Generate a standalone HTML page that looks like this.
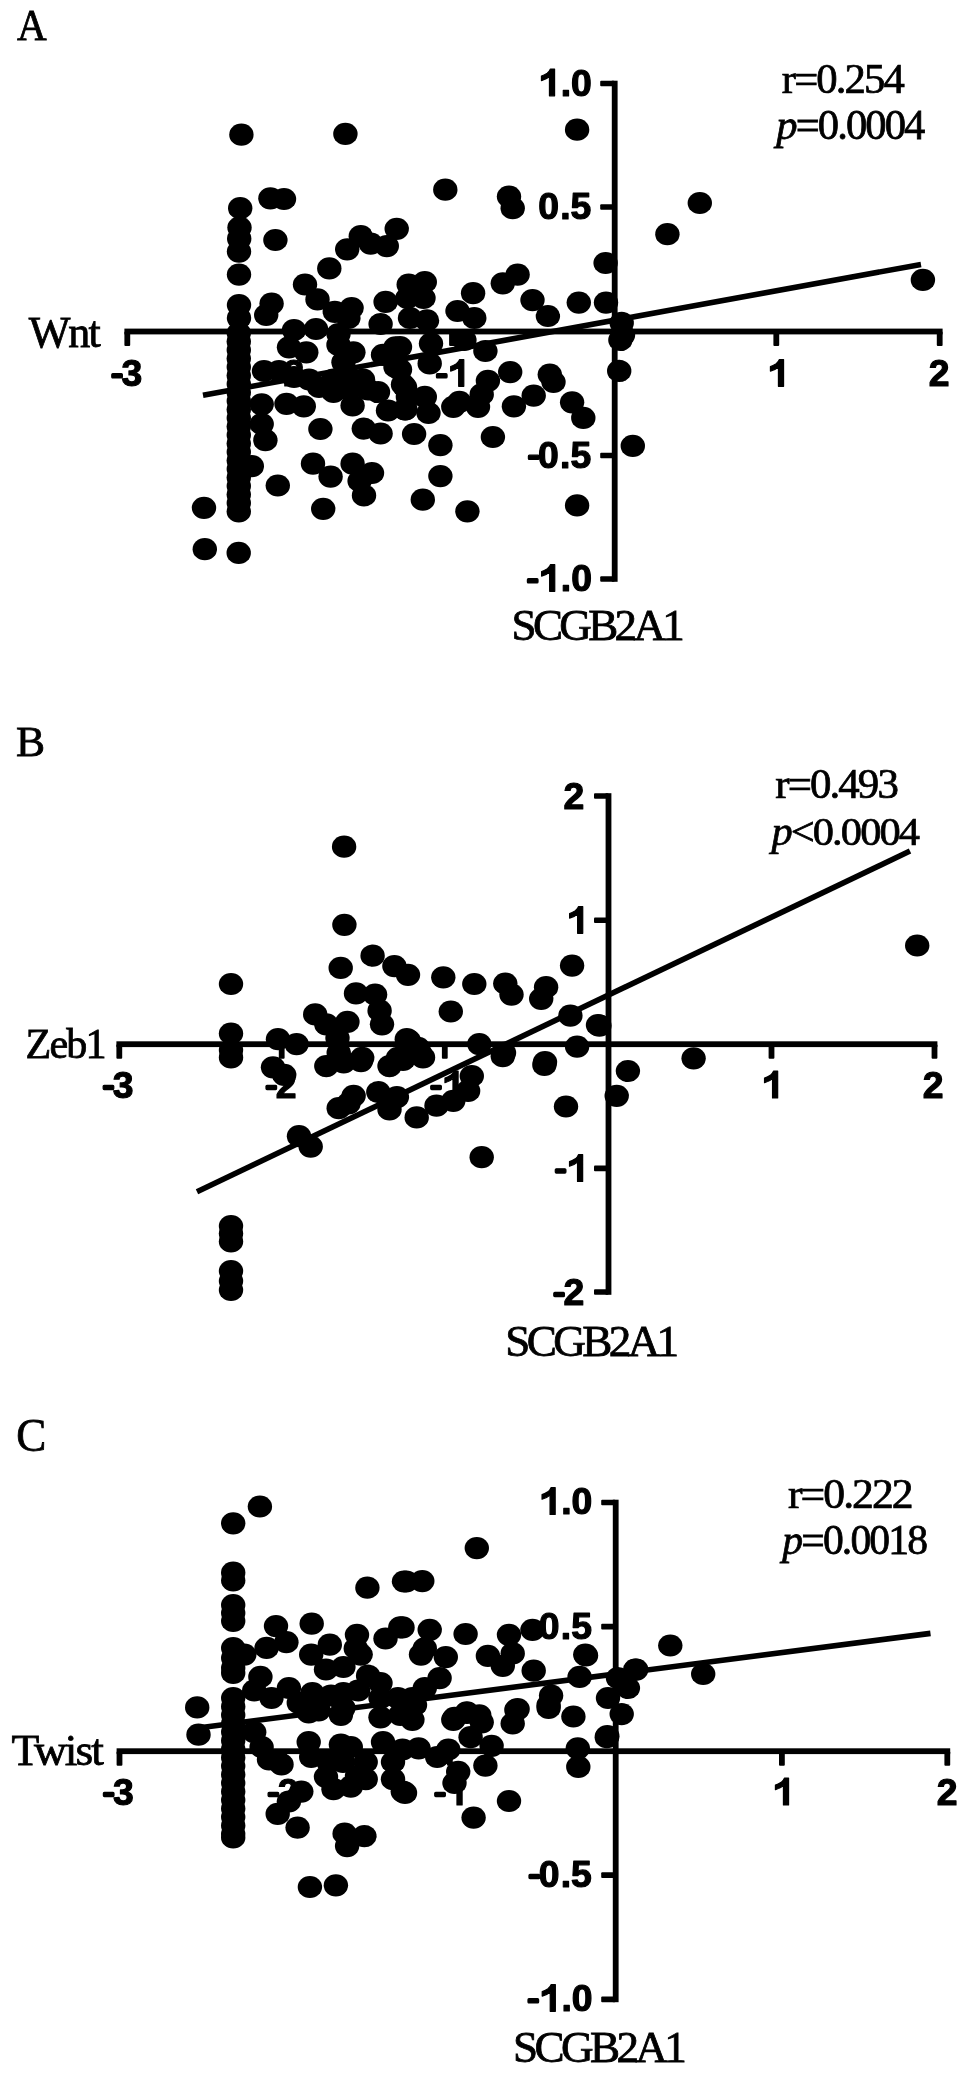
<!DOCTYPE html>
<html><head><meta charset="utf-8"><title>Figure</title>
<style>
html,body{margin:0;padding:0;background:#fff;}
body{width:969px;height:2075px;overflow:hidden;font-family:"Liberation Sans",sans-serif;}
svg{display:block;}
.b{font-family:"Liberation Sans",sans-serif;font-weight:bold;fill:#000;}
.bg text,.bg path,.bg rect{stroke:#000;stroke-width:1.2px;stroke-linejoin:round;}
.bg path{stroke-width:66px;}
.s{font-family:"Liberation Serif",serif;fill:#000;stroke:#000;stroke-width:0.8px;}
</style></head><body>
<svg width="969" height="2075" viewBox="0 0 969 2075" fill="#000">
<defs><filter id="soft" x="0" y="0" width="969" height="2075" filterUnits="userSpaceOnUse"><feGaussianBlur stdDeviation="0.7"/></filter></defs>
<rect x="0" y="0" width="969" height="2075" fill="#fff"/>
<g filter="url(#soft)">
<rect x="611.80" y="80.70" width="5.8" height="501.10"/><rect x="124.40" y="328.60" width="818.20" height="5.8"/><rect x="124.40" y="331.50" width="5.8" height="14.6" rx="1"/><rect x="286.60" y="331.50" width="5.8" height="14.6" rx="1"/><rect x="449.10" y="331.50" width="5.8" height="14.6" rx="1"/><rect x="773.40" y="331.50" width="5.8" height="14.6" rx="1"/><rect x="936.80" y="331.50" width="5.8" height="14.6" rx="1"/><rect x="600.20" y="80.70" width="14.5" height="5.6" rx="1"/><rect x="600.20" y="204.20" width="14.5" height="5.6" rx="1"/><rect x="600.20" y="452.70" width="14.5" height="5.6" rx="1"/><rect x="600.20" y="576.20" width="14.5" height="5.6" rx="1"/><line x1="203" y1="395.3" x2="921" y2="264.4" stroke="#000" stroke-width="5.6"/><ellipse cx="241.4" cy="134.7" rx="12.2" ry="11.1"/><ellipse cx="345.4" cy="133.9" rx="12.2" ry="11.1"/><ellipse cx="270.4" cy="198.3" rx="12.2" ry="11.1"/><ellipse cx="284.0" cy="199.0" rx="12.2" ry="11.1"/><ellipse cx="240.2" cy="208.2" rx="12.2" ry="11.1"/><ellipse cx="239.5" cy="227.5" rx="12.2" ry="11.1"/><ellipse cx="239.2" cy="238.7" rx="12.2" ry="11.1"/><ellipse cx="239.0" cy="251.6" rx="12.2" ry="11.1"/><ellipse cx="239.0" cy="274.6" rx="12.2" ry="11.1"/><ellipse cx="275.4" cy="240.0" rx="12.2" ry="11.1"/><ellipse cx="396.7" cy="228.8" rx="12.2" ry="11.1"/><ellipse cx="360.8" cy="236.2" rx="12.2" ry="11.1"/><ellipse cx="347.2" cy="249.3" rx="12.2" ry="11.1"/><ellipse cx="370.7" cy="243.6" rx="12.2" ry="11.1"/><ellipse cx="386.8" cy="246.1" rx="12.2" ry="11.1"/><ellipse cx="329.3" cy="268.4" rx="12.2" ry="11.1"/><ellipse cx="305.0" cy="284.5" rx="12.2" ry="11.1"/><ellipse cx="317.5" cy="299.4" rx="12.2" ry="11.1"/><ellipse cx="271.6" cy="303.6" rx="12.2" ry="11.1"/><ellipse cx="266.2" cy="315.0" rx="12.2" ry="11.1"/><ellipse cx="239.0" cy="305.0" rx="12.2" ry="11.1"/><ellipse cx="239.0" cy="318.0" rx="12.2" ry="11.1"/><ellipse cx="334.8" cy="311.8" rx="12.2" ry="11.1"/><ellipse cx="351.6" cy="308.0" rx="12.2" ry="11.1"/><ellipse cx="348.4" cy="318.0" rx="12.2" ry="11.1"/><ellipse cx="385.6" cy="301.9" rx="12.2" ry="11.1"/><ellipse cx="380.6" cy="324.0" rx="12.2" ry="11.1"/><ellipse cx="294.0" cy="330.0" rx="12.2" ry="11.1"/><ellipse cx="316.0" cy="329.0" rx="12.2" ry="11.1"/><ellipse cx="338.5" cy="334.0" rx="12.2" ry="11.1"/><ellipse cx="577.1" cy="129.7" rx="12.2" ry="11.1"/><ellipse cx="445.3" cy="189.7" rx="12.2" ry="11.1"/><ellipse cx="509.0" cy="196.6" rx="12.2" ry="11.1"/><ellipse cx="512.7" cy="208.2" rx="12.2" ry="11.1"/><ellipse cx="605.6" cy="263.0" rx="12.2" ry="11.1"/><ellipse cx="517.6" cy="274.6" rx="12.2" ry="11.1"/><ellipse cx="502.8" cy="283.3" rx="12.2" ry="11.1"/><ellipse cx="473.1" cy="293.2" rx="12.2" ry="11.1"/><ellipse cx="532.5" cy="300.1" rx="12.2" ry="11.1"/><ellipse cx="578.8" cy="302.6" rx="12.2" ry="11.1"/><ellipse cx="606.0" cy="302.6" rx="12.2" ry="11.1"/><ellipse cx="547.9" cy="316.0" rx="12.2" ry="11.1"/><ellipse cx="457.5" cy="311.0" rx="12.2" ry="11.1"/><ellipse cx="474.3" cy="318.0" rx="12.2" ry="11.1"/><ellipse cx="424.8" cy="282.0" rx="12.2" ry="11.1"/><ellipse cx="408.7" cy="284.5" rx="12.2" ry="11.1"/><ellipse cx="423.5" cy="298.0" rx="12.2" ry="11.1"/><ellipse cx="407.4" cy="298.0" rx="12.2" ry="11.1"/><ellipse cx="410.0" cy="318.0" rx="12.2" ry="11.1"/><ellipse cx="427.0" cy="320.4" rx="12.2" ry="11.1"/><ellipse cx="621.7" cy="322.9" rx="12.2" ry="11.1"/><ellipse cx="623.0" cy="335.0" rx="12.2" ry="11.1"/><ellipse cx="204.0" cy="507.8" rx="12.2" ry="11.1"/><ellipse cx="204.8" cy="549.2" rx="12.2" ry="11.1"/><ellipse cx="238.7" cy="552.9" rx="12.2" ry="11.1"/><ellipse cx="277.8" cy="485.5" rx="12.2" ry="11.1"/><ellipse cx="323.2" cy="508.8" rx="12.2" ry="11.1"/><ellipse cx="251.8" cy="466.2" rx="12.2" ry="11.1"/><ellipse cx="265.4" cy="440.2" rx="12.2" ry="11.1"/><ellipse cx="261.7" cy="424.0" rx="12.2" ry="11.1"/><ellipse cx="261.7" cy="404.3" rx="12.2" ry="11.1"/><ellipse cx="286.5" cy="403.8" rx="12.2" ry="11.1"/><ellipse cx="303.8" cy="406.3" rx="12.2" ry="11.1"/><ellipse cx="320.4" cy="429.0" rx="12.2" ry="11.1"/><ellipse cx="313.0" cy="463.7" rx="12.2" ry="11.1"/><ellipse cx="330.6" cy="476.6" rx="12.2" ry="11.1"/><ellipse cx="352.6" cy="463.7" rx="12.2" ry="11.1"/><ellipse cx="372.0" cy="473.0" rx="12.2" ry="11.1"/><ellipse cx="359.6" cy="481.0" rx="12.2" ry="11.1"/><ellipse cx="364.0" cy="495.4" rx="12.2" ry="11.1"/><ellipse cx="363.8" cy="428.6" rx="12.2" ry="11.1"/><ellipse cx="380.6" cy="433.5" rx="12.2" ry="11.1"/><ellipse cx="352.6" cy="405.5" rx="12.2" ry="11.1"/><ellipse cx="388.0" cy="410.5" rx="12.2" ry="11.1"/><ellipse cx="405.4" cy="409.3" rx="12.2" ry="11.1"/><ellipse cx="264.0" cy="371.0" rx="12.2" ry="11.1"/><ellipse cx="279.0" cy="371.0" rx="12.2" ry="11.1"/><ellipse cx="294.0" cy="377.0" rx="12.2" ry="11.1"/><ellipse cx="309.0" cy="379.5" rx="12.2" ry="11.1"/><ellipse cx="319.0" cy="387.0" rx="12.2" ry="11.1"/><ellipse cx="333.5" cy="379.5" rx="12.2" ry="11.1"/><ellipse cx="333.5" cy="392.0" rx="12.2" ry="11.1"/><ellipse cx="348.4" cy="377.0" rx="12.2" ry="11.1"/><ellipse cx="348.4" cy="389.4" rx="12.2" ry="11.1"/><ellipse cx="363.0" cy="379.5" rx="12.2" ry="11.1"/><ellipse cx="368.0" cy="389.4" rx="12.2" ry="11.1"/><ellipse cx="378.0" cy="392.0" rx="12.2" ry="11.1"/><ellipse cx="289.0" cy="347.3" rx="12.2" ry="11.1"/><ellipse cx="306.3" cy="352.3" rx="12.2" ry="11.1"/><ellipse cx="338.5" cy="344.9" rx="12.2" ry="11.1"/><ellipse cx="353.4" cy="352.3" rx="12.2" ry="11.1"/><ellipse cx="343.5" cy="362.2" rx="12.2" ry="11.1"/><ellipse cx="395.5" cy="347.3" rx="12.2" ry="11.1"/><ellipse cx="383.0" cy="354.8" rx="12.2" ry="11.1"/><ellipse cx="395.5" cy="367.0" rx="12.2" ry="11.1"/><ellipse cx="403.0" cy="384.5" rx="12.2" ry="11.1"/><ellipse cx="407.9" cy="396.9" rx="12.2" ry="11.1"/><ellipse cx="620.4" cy="340.0" rx="12.2" ry="11.1"/><ellipse cx="619.2" cy="370.9" rx="12.2" ry="11.1"/><ellipse cx="632.8" cy="445.9" rx="12.2" ry="11.1"/><ellipse cx="577.1" cy="505.4" rx="12.2" ry="11.1"/><ellipse cx="467.4" cy="511.3" rx="12.2" ry="11.1"/><ellipse cx="422.8" cy="499.7" rx="12.2" ry="11.1"/><ellipse cx="440.4" cy="476.1" rx="12.2" ry="11.1"/><ellipse cx="440.4" cy="445.2" rx="12.2" ry="11.1"/><ellipse cx="414.1" cy="434.0" rx="12.2" ry="11.1"/><ellipse cx="492.9" cy="437.0" rx="12.2" ry="11.1"/><ellipse cx="583.3" cy="417.9" rx="12.2" ry="11.1"/><ellipse cx="572.1" cy="402.3" rx="12.2" ry="11.1"/><ellipse cx="549.8" cy="374.6" rx="12.2" ry="11.1"/><ellipse cx="553.5" cy="382.0" rx="12.2" ry="11.1"/><ellipse cx="533.7" cy="395.6" rx="12.2" ry="11.1"/><ellipse cx="513.9" cy="406.3" rx="12.2" ry="11.1"/><ellipse cx="510.2" cy="372.1" rx="12.2" ry="11.1"/><ellipse cx="487.9" cy="380.8" rx="12.2" ry="11.1"/><ellipse cx="481.7" cy="394.4" rx="12.2" ry="11.1"/><ellipse cx="478.0" cy="406.8" rx="12.2" ry="11.1"/><ellipse cx="453.3" cy="406.8" rx="12.2" ry="11.1"/><ellipse cx="459.4" cy="401.8" rx="12.2" ry="11.1"/><ellipse cx="428.5" cy="413.0" rx="12.2" ry="11.1"/><ellipse cx="424.8" cy="396.9" rx="12.2" ry="11.1"/><ellipse cx="405.0" cy="409.3" rx="12.2" ry="11.1"/><ellipse cx="405.0" cy="387.0" rx="12.2" ry="11.1"/><ellipse cx="429.7" cy="363.4" rx="12.2" ry="11.1"/><ellipse cx="431.0" cy="343.6" rx="12.2" ry="11.1"/><ellipse cx="485.4" cy="351.0" rx="12.2" ry="11.1"/><ellipse cx="464.4" cy="340.0" rx="12.2" ry="11.1"/><ellipse cx="400.0" cy="347.0" rx="12.2" ry="11.1"/><ellipse cx="400.0" cy="369.6" rx="12.2" ry="11.1"/><ellipse cx="699.8" cy="203.0" rx="12.2" ry="11.1"/><ellipse cx="667.4" cy="234.2" rx="12.2" ry="11.1"/><ellipse cx="922.9" cy="279.9" rx="12.2" ry="11.1"/><ellipse cx="238.8" cy="511.5" rx="12.2" ry="11.1"/><ellipse cx="238.8" cy="333.0" rx="12.2" ry="11.1"/><ellipse cx="238.8" cy="341.5" rx="12.2" ry="11.1"/><ellipse cx="238.8" cy="350.0" rx="12.2" ry="11.1"/><ellipse cx="238.8" cy="358.5" rx="12.2" ry="11.1"/><ellipse cx="238.8" cy="367.0" rx="12.2" ry="11.1"/><ellipse cx="238.8" cy="375.5" rx="12.2" ry="11.1"/><ellipse cx="238.8" cy="384.0" rx="12.2" ry="11.1"/><ellipse cx="238.8" cy="392.5" rx="12.2" ry="11.1"/><ellipse cx="238.8" cy="401.0" rx="12.2" ry="11.1"/><ellipse cx="238.8" cy="409.5" rx="12.2" ry="11.1"/><ellipse cx="238.8" cy="418.0" rx="12.2" ry="11.1"/><ellipse cx="238.8" cy="426.5" rx="12.2" ry="11.1"/><ellipse cx="238.8" cy="435.0" rx="12.2" ry="11.1"/><ellipse cx="238.8" cy="443.5" rx="12.2" ry="11.1"/><ellipse cx="238.8" cy="452.0" rx="12.2" ry="11.1"/><ellipse cx="238.8" cy="460.5" rx="12.2" ry="11.1"/><ellipse cx="238.8" cy="469.0" rx="12.2" ry="11.1"/><ellipse cx="238.8" cy="477.5" rx="12.2" ry="11.1"/><ellipse cx="238.8" cy="486.0" rx="12.2" ry="11.1"/><ellipse cx="238.8" cy="494.5" rx="12.2" ry="11.1"/><ellipse cx="238.8" cy="503.0" rx="12.2" ry="11.1"/><rect x="605.60" y="793.20" width="5.8" height="501.60"/><rect x="116.40" y="1041.30" width="821.00" height="5.8"/><rect x="116.40" y="1044.20" width="5.8" height="14.6" rx="1"/><rect x="278.80" y="1044.20" width="5.8" height="14.6" rx="1"/><rect x="441.90" y="1044.20" width="5.8" height="14.6" rx="1"/><rect x="768.60" y="1044.20" width="5.8" height="14.6" rx="1"/><rect x="931.60" y="1044.20" width="5.8" height="14.6" rx="1"/><rect x="594.00" y="793.20" width="14.5" height="5.6" rx="1"/><rect x="594.00" y="917.50" width="14.5" height="5.6" rx="1"/><rect x="594.00" y="1165.60" width="14.5" height="5.6" rx="1"/><rect x="594.00" y="1289.20" width="14.5" height="5.6" rx="1"/><line x1="197" y1="1191.7" x2="910" y2="851" stroke="#000" stroke-width="5.6"/><ellipse cx="344.1" cy="846.7" rx="12.2" ry="11.1"/><ellipse cx="344.4" cy="924.8" rx="12.2" ry="11.1"/><ellipse cx="340.7" cy="967.9" rx="12.2" ry="11.1"/><ellipse cx="231.0" cy="984.0" rx="12.2" ry="11.1"/><ellipse cx="372.6" cy="955.7" rx="12.2" ry="11.1"/><ellipse cx="394.4" cy="966.1" rx="12.2" ry="11.1"/><ellipse cx="408.0" cy="974.8" rx="12.2" ry="11.1"/><ellipse cx="356.0" cy="993.4" rx="12.2" ry="11.1"/><ellipse cx="375.1" cy="994.6" rx="12.2" ry="11.1"/><ellipse cx="379.6" cy="1010.7" rx="12.2" ry="11.1"/><ellipse cx="382.0" cy="1024.3" rx="12.2" ry="11.1"/><ellipse cx="315.2" cy="1014.4" rx="12.2" ry="11.1"/><ellipse cx="326.3" cy="1024.3" rx="12.2" ry="11.1"/><ellipse cx="347.4" cy="1021.9" rx="12.2" ry="11.1"/><ellipse cx="231.0" cy="1033.5" rx="12.2" ry="11.1"/><ellipse cx="231.0" cy="1050.0" rx="12.2" ry="11.1"/><ellipse cx="278.0" cy="1039.2" rx="12.2" ry="11.1"/><ellipse cx="296.6" cy="1044.1" rx="12.2" ry="11.1"/><ellipse cx="337.5" cy="1038.0" rx="12.2" ry="11.1"/><ellipse cx="338.7" cy="1052.8" rx="12.2" ry="11.1"/><ellipse cx="406.8" cy="1039.2" rx="12.2" ry="11.1"/><ellipse cx="418.0" cy="1047.9" rx="12.2" ry="11.1"/><ellipse cx="362.2" cy="1057.8" rx="12.2" ry="11.1"/><ellipse cx="398.0" cy="1057.8" rx="12.2" ry="11.1"/><ellipse cx="572.1" cy="965.6" rx="12.2" ry="11.1"/><ellipse cx="546.1" cy="987.2" rx="12.2" ry="11.1"/><ellipse cx="541.2" cy="998.8" rx="12.2" ry="11.1"/><ellipse cx="505.3" cy="983.5" rx="12.2" ry="11.1"/><ellipse cx="511.5" cy="994.6" rx="12.2" ry="11.1"/><ellipse cx="474.3" cy="984.0" rx="12.2" ry="11.1"/><ellipse cx="443.3" cy="977.3" rx="12.2" ry="11.1"/><ellipse cx="450.8" cy="1011.5" rx="12.2" ry="11.1"/><ellipse cx="570.4" cy="1015.7" rx="12.2" ry="11.1"/><ellipse cx="599.4" cy="1025.6" rx="12.2" ry="11.1"/><ellipse cx="577.1" cy="1046.6" rx="12.2" ry="11.1"/><ellipse cx="479.3" cy="1044.1" rx="12.2" ry="11.1"/><ellipse cx="504.0" cy="1052.8" rx="12.2" ry="11.1"/><ellipse cx="408.7" cy="1040.4" rx="12.2" ry="11.1"/><ellipse cx="419.8" cy="1052.8" rx="12.2" ry="11.1"/><ellipse cx="545.0" cy="1062.0" rx="12.2" ry="11.1"/><ellipse cx="231.0" cy="1057.4" rx="12.2" ry="11.1"/><ellipse cx="231.0" cy="1226.0" rx="12.2" ry="11.1"/><ellipse cx="231.0" cy="1233.5" rx="12.2" ry="11.1"/><ellipse cx="231.0" cy="1241.5" rx="12.2" ry="11.1"/><ellipse cx="231.0" cy="1271.0" rx="12.2" ry="11.1"/><ellipse cx="231.0" cy="1281.0" rx="12.2" ry="11.1"/><ellipse cx="231.0" cy="1290.0" rx="12.2" ry="11.1"/><ellipse cx="273.0" cy="1067.3" rx="12.2" ry="11.1"/><ellipse cx="284.2" cy="1074.8" rx="12.2" ry="11.1"/><ellipse cx="299.0" cy="1136.2" rx="12.2" ry="11.1"/><ellipse cx="310.7" cy="1146.6" rx="12.2" ry="11.1"/><ellipse cx="326.3" cy="1066.1" rx="12.2" ry="11.1"/><ellipse cx="343.7" cy="1062.4" rx="12.2" ry="11.1"/><ellipse cx="361.0" cy="1061.1" rx="12.2" ry="11.1"/><ellipse cx="389.5" cy="1066.1" rx="12.2" ry="11.1"/><ellipse cx="403.0" cy="1060.0" rx="12.2" ry="11.1"/><ellipse cx="423.0" cy="1057.4" rx="12.2" ry="11.1"/><ellipse cx="353.6" cy="1095.8" rx="12.2" ry="11.1"/><ellipse cx="338.7" cy="1108.2" rx="12.2" ry="11.1"/><ellipse cx="348.6" cy="1103.3" rx="12.2" ry="11.1"/><ellipse cx="378.3" cy="1092.1" rx="12.2" ry="11.1"/><ellipse cx="396.9" cy="1097.1" rx="12.2" ry="11.1"/><ellipse cx="389.5" cy="1109.4" rx="12.2" ry="11.1"/><ellipse cx="416.7" cy="1117.4" rx="12.2" ry="11.1"/><ellipse cx="436.5" cy="1105.7" rx="12.2" ry="11.1"/><ellipse cx="627.9" cy="1071.0" rx="12.2" ry="11.1"/><ellipse cx="616.7" cy="1095.8" rx="12.2" ry="11.1"/><ellipse cx="566.0" cy="1106.5" rx="12.2" ry="11.1"/><ellipse cx="544.4" cy="1064.9" rx="12.2" ry="11.1"/><ellipse cx="481.7" cy="1157.2" rx="12.2" ry="11.1"/><ellipse cx="502.8" cy="1056.2" rx="12.2" ry="11.1"/><ellipse cx="471.8" cy="1076.0" rx="12.2" ry="11.1"/><ellipse cx="468.1" cy="1090.9" rx="12.2" ry="11.1"/><ellipse cx="453.3" cy="1100.8" rx="12.2" ry="11.1"/><ellipse cx="917.2" cy="945.5" rx="12.2" ry="11.1"/><ellipse cx="693.6" cy="1058.3" rx="12.2" ry="11.1"/><ellipse cx="598.0" cy="1025.0" rx="12.2" ry="11.1"/><rect x="612.80" y="1499.70" width="5.8" height="502.50"/><rect x="116.60" y="1748.30" width="833.60" height="5.8"/><rect x="116.60" y="1751.20" width="5.8" height="14.6" rx="1"/><rect x="281.20" y="1751.20" width="5.8" height="14.6" rx="1"/><rect x="447.00" y="1751.20" width="5.8" height="14.6" rx="1"/><rect x="779.00" y="1751.20" width="5.8" height="14.6" rx="1"/><rect x="944.40" y="1751.20" width="5.8" height="14.6" rx="1"/><rect x="601.20" y="1499.70" width="14.5" height="5.6" rx="1"/><rect x="601.20" y="1623.80" width="14.5" height="5.6" rx="1"/><rect x="601.20" y="1872.30" width="14.5" height="5.6" rx="1"/><rect x="601.20" y="1996.60" width="14.5" height="5.6" rx="1"/><line x1="192" y1="1728.7" x2="930.5" y2="1633.4" stroke="#000" stroke-width="5.6"/><ellipse cx="259.9" cy="1506.5" rx="12.2" ry="11.1"/><ellipse cx="233.2" cy="1523.3" rx="12.2" ry="11.1"/><ellipse cx="367.4" cy="1587.7" rx="12.2" ry="11.1"/><ellipse cx="404.0" cy="1581.5" rx="12.2" ry="11.1"/><ellipse cx="276.0" cy="1626.1" rx="12.2" ry="11.1"/><ellipse cx="311.7" cy="1623.7" rx="12.2" ry="11.1"/><ellipse cx="286.4" cy="1642.2" rx="12.2" ry="11.1"/><ellipse cx="266.6" cy="1647.9" rx="12.2" ry="11.1"/><ellipse cx="244.3" cy="1654.6" rx="12.2" ry="11.1"/><ellipse cx="329.8" cy="1644.7" rx="12.2" ry="11.1"/><ellipse cx="311.2" cy="1654.6" rx="12.2" ry="11.1"/><ellipse cx="326.0" cy="1669.5" rx="12.2" ry="11.1"/><ellipse cx="343.4" cy="1667.0" rx="12.2" ry="11.1"/><ellipse cx="357.0" cy="1634.8" rx="12.2" ry="11.1"/><ellipse cx="355.8" cy="1648.4" rx="12.2" ry="11.1"/><ellipse cx="360.7" cy="1654.6" rx="12.2" ry="11.1"/><ellipse cx="385.5" cy="1638.5" rx="12.2" ry="11.1"/><ellipse cx="400.3" cy="1627.4" rx="12.2" ry="11.1"/><ellipse cx="260.4" cy="1676.9" rx="12.2" ry="11.1"/><ellipse cx="254.2" cy="1690.5" rx="12.2" ry="11.1"/><ellipse cx="197.2" cy="1707.4" rx="12.2" ry="11.1"/><ellipse cx="288.9" cy="1688.0" rx="12.2" ry="11.1"/><ellipse cx="271.5" cy="1698.0" rx="12.2" ry="11.1"/><ellipse cx="312.4" cy="1693.0" rx="12.2" ry="11.1"/><ellipse cx="298.8" cy="1702.9" rx="12.2" ry="11.1"/><ellipse cx="331.0" cy="1695.5" rx="12.2" ry="11.1"/><ellipse cx="343.4" cy="1693.0" rx="12.2" ry="11.1"/><ellipse cx="368.1" cy="1675.7" rx="12.2" ry="11.1"/><ellipse cx="380.5" cy="1683.1" rx="12.2" ry="11.1"/><ellipse cx="358.2" cy="1690.5" rx="12.2" ry="11.1"/><ellipse cx="380.5" cy="1698.0" rx="12.2" ry="11.1"/><ellipse cx="397.9" cy="1698.0" rx="12.2" ry="11.1"/><ellipse cx="318.6" cy="1710.3" rx="12.2" ry="11.1"/><ellipse cx="343.4" cy="1707.9" rx="12.2" ry="11.1"/><ellipse cx="476.8" cy="1548.1" rx="12.2" ry="11.1"/><ellipse cx="422.3" cy="1581.1" rx="12.2" ry="11.1"/><ellipse cx="406.2" cy="1581.5" rx="12.2" ry="11.1"/><ellipse cx="402.5" cy="1627.4" rx="12.2" ry="11.1"/><ellipse cx="429.7" cy="1629.8" rx="12.2" ry="11.1"/><ellipse cx="465.6" cy="1634.0" rx="12.2" ry="11.1"/><ellipse cx="509.0" cy="1634.8" rx="12.2" ry="11.1"/><ellipse cx="532.5" cy="1629.8" rx="12.2" ry="11.1"/><ellipse cx="424.8" cy="1648.4" rx="12.2" ry="11.1"/><ellipse cx="421.0" cy="1654.6" rx="12.2" ry="11.1"/><ellipse cx="445.8" cy="1657.1" rx="12.2" ry="11.1"/><ellipse cx="487.9" cy="1655.9" rx="12.2" ry="11.1"/><ellipse cx="512.7" cy="1653.4" rx="12.2" ry="11.1"/><ellipse cx="502.8" cy="1665.8" rx="12.2" ry="11.1"/><ellipse cx="533.7" cy="1670.7" rx="12.2" ry="11.1"/><ellipse cx="585.3" cy="1654.6" rx="12.2" ry="11.1"/><ellipse cx="579.6" cy="1676.9" rx="12.2" ry="11.1"/><ellipse cx="439.6" cy="1678.1" rx="12.2" ry="11.1"/><ellipse cx="424.8" cy="1688.0" rx="12.2" ry="11.1"/><ellipse cx="412.4" cy="1698.0" rx="12.2" ry="11.1"/><ellipse cx="551.1" cy="1695.5" rx="12.2" ry="11.1"/><ellipse cx="548.6" cy="1707.9" rx="12.2" ry="11.1"/><ellipse cx="517.6" cy="1709.1" rx="12.2" ry="11.1"/><ellipse cx="466.9" cy="1712.8" rx="12.2" ry="11.1"/><ellipse cx="479.3" cy="1715.3" rx="12.2" ry="11.1"/><ellipse cx="454.5" cy="1717.8" rx="12.2" ry="11.1"/><ellipse cx="608.0" cy="1698.0" rx="12.2" ry="11.1"/><ellipse cx="627.9" cy="1688.0" rx="12.2" ry="11.1"/><ellipse cx="618.0" cy="1678.0" rx="12.2" ry="11.1"/><ellipse cx="635.3" cy="1669.5" rx="12.2" ry="11.1"/><ellipse cx="621.7" cy="1714.1" rx="12.2" ry="11.1"/><ellipse cx="573.4" cy="1716.5" rx="12.2" ry="11.1"/><ellipse cx="407.4" cy="1710.3" rx="12.2" ry="11.1"/><ellipse cx="198.5" cy="1734.7" rx="12.2" ry="11.1"/><ellipse cx="309.9" cy="1887.0" rx="12.2" ry="11.1"/><ellipse cx="335.9" cy="1885.3" rx="12.2" ry="11.1"/><ellipse cx="344.6" cy="1833.7" rx="12.2" ry="11.1"/><ellipse cx="364.4" cy="1836.2" rx="12.2" ry="11.1"/><ellipse cx="347.1" cy="1846.1" rx="12.2" ry="11.1"/><ellipse cx="297.6" cy="1827.6" rx="12.2" ry="11.1"/><ellipse cx="277.7" cy="1813.9" rx="12.2" ry="11.1"/><ellipse cx="288.9" cy="1801.5" rx="12.2" ry="11.1"/><ellipse cx="301.3" cy="1791.6" rx="12.2" ry="11.1"/><ellipse cx="254.2" cy="1732.2" rx="12.2" ry="11.1"/><ellipse cx="261.6" cy="1747.0" rx="12.2" ry="11.1"/><ellipse cx="269.0" cy="1759.4" rx="12.2" ry="11.1"/><ellipse cx="281.5" cy="1764.4" rx="12.2" ry="11.1"/><ellipse cx="308.7" cy="1742.1" rx="12.2" ry="11.1"/><ellipse cx="311.2" cy="1757.0" rx="12.2" ry="11.1"/><ellipse cx="340.9" cy="1744.6" rx="12.2" ry="11.1"/><ellipse cx="350.8" cy="1747.0" rx="12.2" ry="11.1"/><ellipse cx="328.5" cy="1761.9" rx="12.2" ry="11.1"/><ellipse cx="326.0" cy="1776.8" rx="12.2" ry="11.1"/><ellipse cx="333.5" cy="1789.2" rx="12.2" ry="11.1"/><ellipse cx="350.8" cy="1786.7" rx="12.2" ry="11.1"/><ellipse cx="365.7" cy="1779.2" rx="12.2" ry="11.1"/><ellipse cx="365.7" cy="1762.0" rx="12.2" ry="11.1"/><ellipse cx="383.0" cy="1742.1" rx="12.2" ry="11.1"/><ellipse cx="393.0" cy="1762.0" rx="12.2" ry="11.1"/><ellipse cx="393.0" cy="1779.2" rx="12.2" ry="11.1"/><ellipse cx="402.8" cy="1791.6" rx="12.2" ry="11.1"/><ellipse cx="308.7" cy="1712.4" rx="12.2" ry="11.1"/><ellipse cx="340.9" cy="1714.9" rx="12.2" ry="11.1"/><ellipse cx="380.5" cy="1717.3" rx="12.2" ry="11.1"/><ellipse cx="400.3" cy="1714.9" rx="12.2" ry="11.1"/><ellipse cx="606.8" cy="1737.2" rx="12.2" ry="11.1"/><ellipse cx="577.8" cy="1748.3" rx="12.2" ry="11.1"/><ellipse cx="578.3" cy="1766.9" rx="12.2" ry="11.1"/><ellipse cx="548.6" cy="1705.0" rx="12.2" ry="11.1"/><ellipse cx="516.4" cy="1709.9" rx="12.2" ry="11.1"/><ellipse cx="512.7" cy="1723.5" rx="12.2" ry="11.1"/><ellipse cx="509.0" cy="1801.0" rx="12.2" ry="11.1"/><ellipse cx="473.6" cy="1817.6" rx="12.2" ry="11.1"/><ellipse cx="485.4" cy="1765.6" rx="12.2" ry="11.1"/><ellipse cx="491.6" cy="1745.8" rx="12.2" ry="11.1"/><ellipse cx="470.6" cy="1737.2" rx="12.2" ry="11.1"/><ellipse cx="481.7" cy="1722.3" rx="12.2" ry="11.1"/><ellipse cx="466.9" cy="1712.4" rx="12.2" ry="11.1"/><ellipse cx="453.3" cy="1719.8" rx="12.2" ry="11.1"/><ellipse cx="458.2" cy="1771.8" rx="12.2" ry="11.1"/><ellipse cx="454.5" cy="1783.0" rx="12.2" ry="11.1"/><ellipse cx="448.3" cy="1749.5" rx="12.2" ry="11.1"/><ellipse cx="437.2" cy="1757.0" rx="12.2" ry="11.1"/><ellipse cx="418.6" cy="1748.3" rx="12.2" ry="11.1"/><ellipse cx="402.5" cy="1749.5" rx="12.2" ry="11.1"/><ellipse cx="405.0" cy="1792.9" rx="12.2" ry="11.1"/><ellipse cx="412.4" cy="1719.8" rx="12.2" ry="11.1"/><ellipse cx="415.0" cy="1705.0" rx="12.2" ry="11.1"/><ellipse cx="670.3" cy="1645.5" rx="12.2" ry="11.1"/><ellipse cx="703.2" cy="1674.0" rx="12.2" ry="11.1"/><ellipse cx="636.2" cy="1669.6" rx="12.2" ry="11.1"/><ellipse cx="607.3" cy="1736.2" rx="12.2" ry="11.1"/><ellipse cx="586.0" cy="1655.5" rx="12.2" ry="11.1"/><ellipse cx="233.2" cy="1572.7" rx="12.2" ry="11.1"/><ellipse cx="233.2" cy="1580.5" rx="12.2" ry="11.1"/><ellipse cx="233.2" cy="1605.0" rx="12.2" ry="11.1"/><ellipse cx="233.2" cy="1613.0" rx="12.2" ry="11.1"/><ellipse cx="233.2" cy="1621.0" rx="12.2" ry="11.1"/><ellipse cx="233.2" cy="1648.0" rx="12.2" ry="11.1"/><ellipse cx="233.2" cy="1658.0" rx="12.2" ry="11.1"/><ellipse cx="233.2" cy="1668.0" rx="12.2" ry="11.1"/><ellipse cx="233.2" cy="1673.0" rx="12.2" ry="11.1"/><ellipse cx="233.2" cy="1698.0" rx="12.2" ry="11.1"/><ellipse cx="233.2" cy="1706.5" rx="12.2" ry="11.1"/><ellipse cx="233.2" cy="1715.0" rx="12.2" ry="11.1"/><ellipse cx="233.2" cy="1723.5" rx="12.2" ry="11.1"/><ellipse cx="233.2" cy="1732.0" rx="12.2" ry="11.1"/><ellipse cx="233.2" cy="1740.5" rx="12.2" ry="11.1"/><ellipse cx="233.2" cy="1749.0" rx="12.2" ry="11.1"/><ellipse cx="233.2" cy="1757.5" rx="12.2" ry="11.1"/><ellipse cx="233.2" cy="1766.0" rx="12.2" ry="11.1"/><ellipse cx="233.2" cy="1774.5" rx="12.2" ry="11.1"/><ellipse cx="233.2" cy="1783.0" rx="12.2" ry="11.1"/><ellipse cx="233.2" cy="1791.5" rx="12.2" ry="11.1"/><ellipse cx="233.2" cy="1800.0" rx="12.2" ry="11.1"/><ellipse cx="233.2" cy="1808.5" rx="12.2" ry="11.1"/><ellipse cx="233.2" cy="1817.0" rx="12.2" ry="11.1"/><ellipse cx="233.2" cy="1825.5" rx="12.2" ry="11.1"/><ellipse cx="233.2" cy="1834.0" rx="12.2" ry="11.1"/><ellipse cx="233.2" cy="1837.5" rx="12.2" ry="11.1"/><ellipse cx="343.0" cy="1762.0" rx="12.2" ry="11.1"/><ellipse cx="357.0" cy="1776.0" rx="12.2" ry="11.1"/><g transform="translate(17.10,40.35) scale(0.9138,0.9818)"><text x="0" y="0" class="s" font-size="45" letter-spacing="-2.0">A</text></g><g transform="translate(16.03,756.13) scale(0.9688,0.9488)"><text x="0" y="0" class="s" font-size="45" letter-spacing="-2.0">B</text></g><g transform="translate(16.30,1451.34) scale(1.0000,1.0129)"><text x="0" y="0" class="s" font-size="45" letter-spacing="-2.0">C</text></g><g transform="translate(28.65,346.92) scale(0.9811,0.9789)"><text x="0" y="0" class="s" font-size="45" letter-spacing="-2.0">Wnt</text></g><g transform="translate(25.56,1058.49) scale(0.9370,0.9519)"><text x="0" y="0" class="s" font-size="45" letter-spacing="-2.0">Zeb1</text></g><g transform="translate(11.39,1765.48) scale(1.0121,0.9645)"><text x="0" y="0" class="s" font-size="45" letter-spacing="-2.0">Twist</text></g><g transform="translate(511.50,640.06) scale(0.9997,0.9871)"><text x="0" y="0" class="s" font-size="45" letter-spacing="-3.6">SCGB2A1</text></g><g transform="translate(505.29,1355.66) scale(1.0027,0.9839)"><text x="0" y="0" class="s" font-size="45" letter-spacing="-3.6">SCGB2A1</text></g><g transform="translate(512.99,2061.76) scale(1.0027,0.9806)"><text x="0" y="0" class="s" font-size="45" letter-spacing="-3.6">SCGB2A1</text></g><g transform="translate(781.83,92.98) scale(0.9491,0.9152)"><text x="0" y="0" class="s" font-size="45" letter-spacing="-2.0">r=0.254</text></g><g transform="translate(775.32,797.87) scale(0.9534,0.9312)"><text x="0" y="0" class="s" font-size="45" letter-spacing="-2.0">r=0.493</text></g><g transform="translate(788.01,1507.88) scale(0.9701,0.9248)"><text x="0" y="0" class="s" font-size="45" letter-spacing="-2.0">r=0.222</text></g><g transform="translate(776.24,139.46) scale(0.9466,0.9440)"><text x="0" y="0" class="s" font-size="45" letter-spacing="-2.0"><tspan font-style="italic">p</tspan>=0.0004</text></g><g transform="translate(771.43,845.31) scale(0.9429,0.8896)"><text x="0" y="0" class="s" font-size="45" letter-spacing="-2.0"><tspan font-style="italic">p</tspan>&lt;0.0004</text></g><g transform="translate(782.37,1554.35) scale(0.9243,0.9536)"><text x="0" y="0" class="s" font-size="45" letter-spacing="-2.0"><tspan font-style="italic">p</tspan>=0.0018</text></g><g transform="translate(539.90,95.80) scale(1.0000,1.0000)"><g class="bg"><path transform="translate(0.00,0) scale(0.01821,-0.01821)" d="M806 0H525V1059Q371 915 85 832V1087Q215 1130 401 1237.5Q530 1338 578 1472H806Z"/><text x="20.74" y="0" class="b" font-size="37.3">.</text><text x="31.11" y="0" class="b" font-size="37.3">0</text></g></g><g transform="translate(538.15,219.30) scale(1.0000,1.0000)"><g class="bg"><text x="0.00" y="0" class="b" font-size="37.3">0</text><text x="22.04" y="0" class="b" font-size="37.3">.</text><text x="32.41" y="0" class="b" font-size="37.3">5</text></g></g><g transform="translate(526.90,467.80) scale(1.0000,1.0000)"><g class="bg"><rect x="1.49" y="-12.59" width="10.63" height="4.29" rx="1"/><text x="11.19" y="0" class="b" font-size="37.3">0</text><text x="33.23" y="0" class="b" font-size="37.3">.</text><text x="43.60" y="0" class="b" font-size="37.3">5</text></g></g><g transform="translate(525.90,591.30) scale(1.0000,1.0000)"><g class="bg"><rect x="1.49" y="-12.59" width="10.63" height="4.29" rx="1"/><path transform="translate(14.17,0) scale(0.01821,-0.01821)" d="M806 0H525V1059Q371 915 85 832V1087Q215 1130 401 1237.5Q530 1338 578 1472H806Z"/><text x="34.91" y="0" class="b" font-size="37.3">.</text><text x="45.28" y="0" class="b" font-size="37.3">0</text></g></g><g transform="translate(110.28,386.30) scale(1.0000,1.0000)"><g class="bg"><rect x="1.49" y="-12.59" width="10.63" height="4.29" rx="1"/><text x="11.19" y="0" class="b" font-size="37.3">3</text></g></g><g transform="translate(272.30,386.30) scale(1.0000,1.0000)"><g class="bg"><rect x="1.49" y="-12.59" width="10.63" height="4.29" rx="1"/><text x="11.19" y="0" class="b" font-size="37.3">2</text></g></g><g transform="translate(434.95,386.30) scale(1.0000,1.0000)"><g class="bg"><rect x="1.49" y="-12.59" width="10.63" height="4.29" rx="1"/><path transform="translate(14.17,0) scale(0.01821,-0.01821)" d="M806 0H525V1059Q371 915 85 832V1087Q215 1130 401 1237.5Q530 1338 578 1472H806Z"/></g></g><g transform="translate(768.88,386.30) scale(1.0000,1.0000)"><g class="bg"><path transform="translate(0.00,0) scale(0.01821,-0.01821)" d="M806 0H525V1059Q371 915 85 832V1087Q215 1130 401 1237.5Q530 1338 578 1472H806Z"/></g></g><g transform="translate(928.65,386.30) scale(1.0000,1.0000)"><g class="bg"><text x="0.00" y="0" class="b" font-size="37.3">2</text></g></g><g transform="translate(563.55,809.00) scale(1.0000,1.0000)"><g class="bg"><text x="0.00" y="0" class="b" font-size="37.3">2</text></g></g><g transform="translate(568.05,933.30) scale(1.0000,1.0000)"><g class="bg"><path transform="translate(0.00,0) scale(0.01821,-0.01821)" d="M806 0H525V1059Q371 915 85 832V1087Q215 1130 401 1237.5Q530 1338 578 1472H806Z"/></g></g><g transform="translate(553.80,1181.40) scale(1.0000,1.0000)"><g class="bg"><rect x="1.49" y="-12.59" width="10.63" height="4.29" rx="1"/><path transform="translate(14.17,0) scale(0.01821,-0.01821)" d="M806 0H525V1059Q371 915 85 832V1087Q215 1130 401 1237.5Q530 1338 578 1472H806Z"/></g></g><g transform="translate(552.30,1305.00) scale(1.0000,1.0000)"><g class="bg"><rect x="1.49" y="-12.59" width="10.63" height="4.29" rx="1"/><text x="11.19" y="0" class="b" font-size="37.3">2</text></g></g><g transform="translate(101.67,1097.90) scale(1.0000,1.0000)"><g class="bg"><rect x="1.49" y="-12.59" width="10.63" height="4.29" rx="1"/><text x="11.19" y="0" class="b" font-size="37.3">3</text></g></g><g transform="translate(264.50,1097.90) scale(1.0000,1.0000)"><g class="bg"><rect x="1.49" y="-12.59" width="10.63" height="4.29" rx="1"/><text x="11.19" y="0" class="b" font-size="37.3">2</text></g></g><g transform="translate(429.25,1097.90) scale(1.0000,1.0000)"><g class="bg"><rect x="1.49" y="-12.59" width="10.63" height="4.29" rx="1"/><path transform="translate(14.17,0) scale(0.01821,-0.01821)" d="M806 0H525V1059Q371 915 85 832V1087Q215 1130 401 1237.5Q530 1338 578 1472H806Z"/></g></g><g transform="translate(762.98,1097.90) scale(1.0000,1.0000)"><g class="bg"><path transform="translate(0.00,0) scale(0.01821,-0.01821)" d="M806 0H525V1059Q371 915 85 832V1087Q215 1130 401 1237.5Q530 1338 578 1472H806Z"/></g></g><g transform="translate(922.75,1097.90) scale(1.0000,1.0000)"><g class="bg"><text x="0.00" y="0" class="b" font-size="37.3">2</text></g></g><g transform="translate(540.50,1514.40) scale(1.0000,1.0000)"><g class="bg"><path transform="translate(0.00,0) scale(0.01821,-0.01821)" d="M806 0H525V1059Q371 915 85 832V1087Q215 1130 401 1237.5Q530 1338 578 1472H806Z"/><text x="20.74" y="0" class="b" font-size="37.3">.</text><text x="31.11" y="0" class="b" font-size="37.3">0</text></g></g><g transform="translate(538.75,1638.50) scale(1.0000,1.0000)"><g class="bg"><text x="0.00" y="0" class="b" font-size="37.3">0</text><text x="22.04" y="0" class="b" font-size="37.3">.</text><text x="32.41" y="0" class="b" font-size="37.3">5</text></g></g><g transform="translate(527.50,1887.00) scale(1.0000,1.0000)"><g class="bg"><rect x="1.49" y="-12.59" width="10.63" height="4.29" rx="1"/><text x="11.19" y="0" class="b" font-size="37.3">0</text><text x="33.23" y="0" class="b" font-size="37.3">.</text><text x="43.60" y="0" class="b" font-size="37.3">5</text></g></g><g transform="translate(526.50,2011.30) scale(1.0000,1.0000)"><g class="bg"><rect x="1.49" y="-12.59" width="10.63" height="4.29" rx="1"/><path transform="translate(14.17,0) scale(0.01821,-0.01821)" d="M806 0H525V1059Q371 915 85 832V1087Q215 1130 401 1237.5Q530 1338 578 1472H806Z"/><text x="34.91" y="0" class="b" font-size="37.3">.</text><text x="45.28" y="0" class="b" font-size="37.3">0</text></g></g><g transform="translate(101.88,1804.90) scale(1.0000,1.0000)"><g class="bg"><rect x="1.49" y="-12.59" width="10.63" height="4.29" rx="1"/><text x="11.19" y="0" class="b" font-size="37.3">3</text></g></g><g transform="translate(266.60,1804.90) scale(1.0000,1.0000)"><g class="bg"><rect x="1.49" y="-12.59" width="10.63" height="4.29" rx="1"/><text x="11.19" y="0" class="b" font-size="37.3">2</text></g></g><g transform="translate(433.25,1804.90) scale(1.0000,1.0000)"><g class="bg"><rect x="1.49" y="-12.59" width="10.63" height="4.29" rx="1"/><path transform="translate(14.17,0) scale(0.01821,-0.01821)" d="M806 0H525V1059Q371 915 85 832V1087Q215 1130 401 1237.5Q530 1338 578 1472H806Z"/></g></g><g transform="translate(773.88,1804.90) scale(1.0000,1.0000)"><g class="bg"><path transform="translate(0.00,0) scale(0.01821,-0.01821)" d="M806 0H525V1059Q371 915 85 832V1087Q215 1130 401 1237.5Q530 1338 578 1472H806Z"/></g></g><g transform="translate(936.75,1804.90) scale(1.0000,1.0000)"><g class="bg"><text x="0.00" y="0" class="b" font-size="37.3">2</text></g></g>
</g>
</svg>
</body></html>
